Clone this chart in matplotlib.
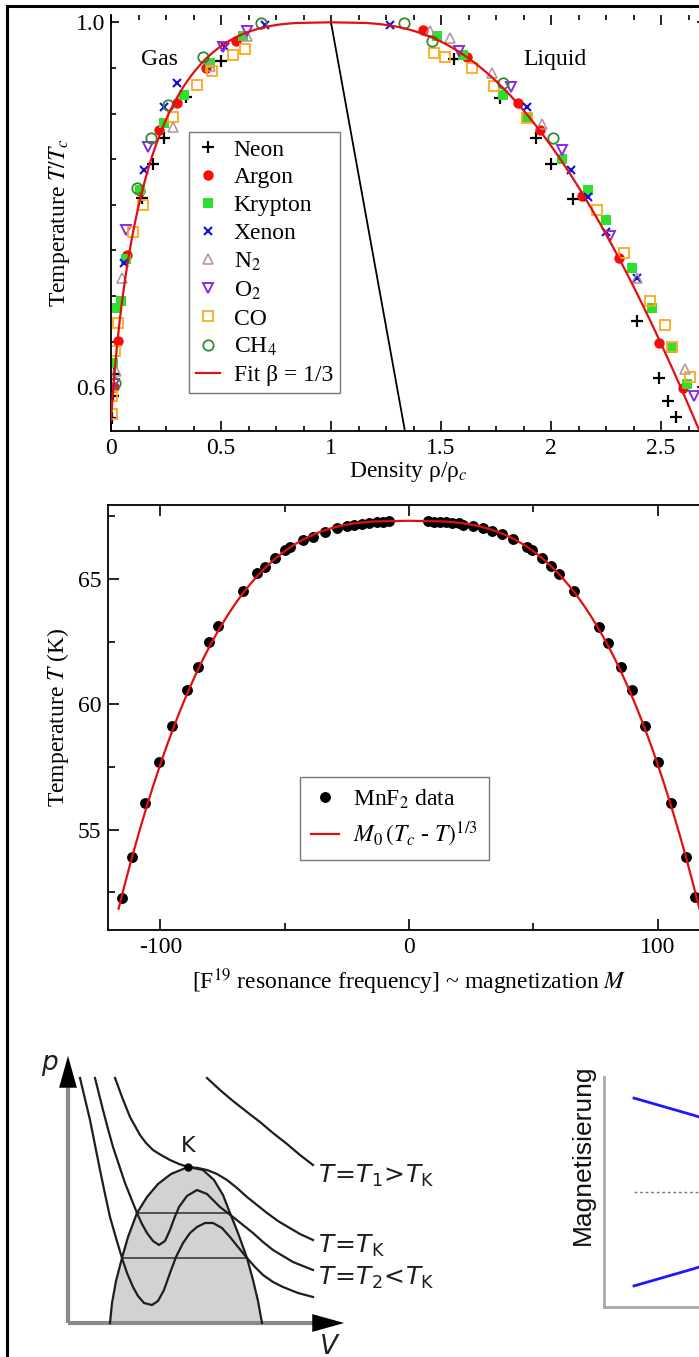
import numpy as np
import matplotlib.pyplot as plt
from matplotlib.patches import Rectangle

plt.rcParams['font.family'] = ['Liberation Serif', 'DejaVu Serif']
plt.rcParams['mathtext.fontset'] = 'stix'
plt.rcParams['axes.unicode_minus'] = False

# ---------------- top panel: reduced coexistence curve (rho/rho_c, T/T_c) ----------------
neon_rho = [0.50, 0.34, 0.24, 0.19, 0.14, 0.015, 0.01, 0.005, 1.56, 1.77, 1.93, 2.00, 2.10, 2.39, 2.49, 2.53, 2.57]
neon_T = [0.958, 0.918, 0.873, 0.845, 0.807, 0.615, 0.59, 0.566, 0.960, 0.917, 0.873, 0.845, 0.806, 0.673, 0.610, 0.585, 0.567]
argon_rho = [0.57, 0.43, 0.30, 0.22, 0.13, 0.075, 0.03, 0.012, 1.42, 1.62, 1.85, 1.95, 2.14, 2.31, 2.49, 2.60]
argon_T = [0.980, 0.950, 0.911, 0.882, 0.815, 0.745, 0.651, 0.600, 0.992, 0.962, 0.912, 0.882, 0.810, 0.742, 0.649, 0.599]
krypton_rho = [0.60, 0.45, 0.33, 0.24, 0.13, 0.07, 0.045, 0.025, 0.01, 1.48, 1.60, 1.78, 1.89, 2.05, 2.17, 2.25, 2.37, 2.46, 2.55, 2.62]
krypton_T = [0.985, 0.955, 0.920, 0.890, 0.816, 0.740, 0.695, 0.687, 0.626, 0.985, 0.964, 0.920, 0.896, 0.850, 0.816, 0.783, 0.731, 0.687, 0.643, 0.604]
xenon_rho = [0.70, 0.52, 0.30, 0.24, 0.15, 0.06, 1.27, 1.89, 2.09, 2.17, 2.25, 2.39]
xenon_T = [0.997, 0.973, 0.933, 0.907, 0.838, 0.736, 0.997, 0.907, 0.838, 0.808, 0.770, 0.720]
n2_rho = [0.62, 0.45, 0.28, 0.05, 0.023, 1.45, 1.54, 1.73, 1.96, 2.39, 2.61]
n2_T = [0.985, 0.952, 0.885, 0.720, 0.618, 0.990, 0.983, 0.944, 0.889, 0.720, 0.620]
o2_rho = [0.62, 0.51, 0.17, 0.07, 0.015, 1.58, 1.82, 2.05, 2.27, 2.65]
o2_T = [0.990, 0.973, 0.863, 0.772, 0.604, 0.969, 0.929, 0.860, 0.766, 0.590]
co_rho = [0.61, 0.555, 0.46, 0.39, 0.28, 0.145, 0.10, 0.032, 0.02, 0.005, 0.005,
          1.47, 1.52, 1.64, 1.74, 1.89, 2.21, 2.33, 2.45, 2.52, 2.55, 2.63]
co_T = [0.971, 0.964, 0.947, 0.931, 0.896, 0.800, 0.770, 0.670, 0.640, 0.590, 0.571,
        0.966, 0.962, 0.950, 0.930, 0.895, 0.794, 0.747, 0.695, 0.668, 0.644, 0.611]
ch4_rho = [0.68, 0.42, 0.26, 0.18, 0.12, 0.02, 1.33, 1.46, 1.78, 2.01]
ch4_T = [0.999, 0.962, 0.909, 0.873, 0.818, 0.605, 0.999, 0.980, 0.934, 0.873]

# Guggenheim fit: rho/rho_c = 1 + a(1-T) +- b(1-T)^beta
fit_a, fit_b, beta = 0.75, 1.75, 1 / 3

# ---------------- middle panel: MnF2 ----------------
mnf2_M = [-115.5, -111.5, -106.2, -100.6, -95.4, -89.3, -84.9, -80.5, -76.9, -66.8,
          -61.2, -57.9, -53.9, -49.9, -47.9, -42.7, -38.6, -33.8, -29.0, -24.9,
          -22.0, -19.0, -16.0, -13.0, -10.5, -8.0,
          7.5, 10.0, 12.5, 15.0, 17.5, 20.0, 21.7, 25.8, 29.8, 33.4,
          37.4, 41.9, 47.5, 49.5, 53.5, 57.1, 60.4, 66.4, 76.5, 80.1,
          85.3, 89.7, 95.0, 100.2, 105.4, 111.5, 115.1]
mnf2_T = [52.29, 53.92, 56.08, 57.71, 59.14, 60.58, 61.49, 62.49, 63.13, 64.52,
          65.24, 65.48, 65.84, 66.16, 66.27, 66.55, 66.67, 66.87, 67.03, 67.11,
          67.17, 67.21, 67.25, 67.27, 67.29, 67.30,
          67.30, 67.29, 67.28, 67.27, 67.25, 67.23, 67.15, 67.11, 67.03, 66.91,
          66.79, 66.59, 66.27, 66.16, 65.84, 65.52, 65.20, 64.52, 63.09, 62.45,
          61.49, 60.58, 59.14, 57.71, 56.08, 53.92, 52.33]
mnf2_Tc, mnf2_M0, mnf2_Tmin = 67.32, 46.9, 51.85

# ---------------- bottom left: p-V sketch ----------------
dome_V = [4.2, 4.4, 4.8, 5.4, 6.0, 6.9, 7.9, 9.0, 10.3, 12.0, 13.5, 14.6, 15.5, 16.2, 17.0, 17.9, 18.5, 19.0, 19.4]
dome_p = [0.0, 2.0, 4.2, 6.5, 8.6, 11.0, 12.6, 13.9, 14.9, 15.6, 15.3, 14.3, 12.8, 11.0, 9.0, 6.5, 4.3, 2.2, 0.0]
iso_hot_V = [13.9, 15.2, 16.5, 17.9, 19.2, 20.5, 21.9, 23.2, 24.5]
iso_hot_p = [24.5, 23.3, 22.2, 21.1, 20.1, 19.0, 17.9, 16.8, 15.8]
iso_crit_V = [4.7, 5.0, 5.4, 5.8, 6.2, 6.7, 7.2, 7.8, 8.5, 9.3, 10.2, 11.1, 12.0, 13.0, 13.9,
              14.9, 15.9, 16.9, 17.9, 18.9, 19.9, 21.0, 22.0, 23.2, 24.5]
iso_crit_p = [24.5, 23.7, 22.6, 21.6, 20.6, 19.7, 18.8, 18.0, 17.3, 16.8, 16.3, 15.9, 15.6, 15.5, 15.3,
              14.9, 14.3, 13.5, 12.6, 11.8, 11.0, 10.2, 9.6, 8.9, 8.3]
iso_mid_V = [2.7, 3.1, 3.5, 4.0, 4.5, 5.1, 5.7, 6.3, 6.9, 7.4, 7.9, 8.5, 9.1, 9.7, 10.2, 10.6, 11.1,
             11.9, 12.9, 13.9, 14.6, 15.2, 16.5, 17.5, 18.5, 19.5, 20.5, 21.5, 22.5, 23.5, 24.5]
iso_mid_p = [24.5, 22.9, 21.3, 19.4, 17.6, 15.8, 14.0, 12.5, 11.0, 9.9, 9.0, 8.2, 7.8, 8.2, 9.3, 10.4, 11.6,
             12.7, 13.3, 12.9, 12.2, 11.6, 10.6, 9.8, 9.0, 8.1, 7.3, 6.7, 6.1, 5.7, 5.3]
iso_cold_V = [1.2, 1.7, 2.2, 2.7, 3.2, 3.7, 4.2, 4.8, 5.4, 5.9, 6.5, 7.0, 7.6, 8.4, 9.0, 9.6, 10.2,
              10.8, 11.5, 12.2, 12.9, 13.7, 14.5, 15.4, 16.2, 17.0, 17.9, 18.7, 19.5, 20.5, 21.5, 23.0, 24.5]
iso_cold_p = [24.5, 22.4, 20.3, 17.8, 15.3, 12.9, 10.6, 8.5, 6.5, 5.0, 3.6, 2.7, 2.0, 1.8, 2.2, 3.3, 5.0,
              6.6, 8.0, 9.0, 9.6, 10.0, 10.0, 9.5, 8.6, 7.6, 6.5, 5.6, 4.8, 4.1, 3.6, 3.0, 2.6]
tie_mid_V, tie_mid_p = [6.9, 16.2], [11.0, 11.0]
tie_cold_V, tie_cold_p = [5.4, 17.9], [6.5, 6.5]
crit_V, crit_p = [12.0], [15.6]

# ---------------- bottom right: magnetisation sketch ----------------
mag_T = [1.0, 2.0, 3.0, 4.0, 5.0, 6.0, 7.0, 7.5, 8.0]
mag_M = [0.98, 0.89, 0.80, 0.70, 0.59, 0.46, 0.30, 0.20, 0.0]
mag_zero_T = [1.0, 10.0]

W, H = 699, 1357
fig = plt.figure(figsize=(W / 100, H / 100), dpi=100)


def px_axes(x0, y0, x1, y1):
    # axes box given in image pixels (top-left origin)
    return fig.add_axes([x0 / W, 1 - y1 / H, (x1 - x0) / W, (y1 - y0) / H])


FS = 17

# ===== panel 1 =====
ax1 = px_axes(111, 15, 705, 431)
styles = [
    ('Neon', neon_rho, neon_T, dict(marker='+', color='black', ms=8, mew=1.6, ls='none')),
    ('Argon', argon_rho, argon_T, dict(marker='o', color='#ff0a0a', ms=7.5, mew=0, ls='none')),
    ('Krypton', krypton_rho, krypton_T, dict(marker='s', color='#2ee02e', ms=6.5, mew=0, ls='none')),
    ('Xenon', xenon_rho, xenon_T, dict(marker='x', color='#1010e0', ms=6, mew=1.5, ls='none')),
    ('N$_2$', n2_rho, n2_T, dict(marker='^', mfc='none', mec='#b3909f', ms=7.5, mew=1.1, ls='none')),
    ('O$_2$', o2_rho, o2_T, dict(marker='v', mfc='none', mec='#8a2be2', ms=7.5, mew=1.4, ls='none')),
    ('CO', co_rho, co_T, dict(marker='s', mfc='none', mec='#ffa81e', ms=7.5, mew=1.3, ls='none')),
    ('CH$_4$', ch4_rho, ch4_T, dict(marker='o', mfc='none', mec='#2e8b2e', ms=7.5, mew=1.3, ls='none')),
]
for name, rho, T, st in styles:
    ax1.plot(rho, T, label=name, **st)

T_fit = np.linspace(0.552, 1.0, 600)
t = 1 - T_fit
rho_gas = 1 + fit_a * t - fit_b * t ** beta
rho_liq = 1 + fit_a * t + fit_b * t ** beta
ax1.plot(np.concatenate([rho_gas, rho_liq[::-1]]), np.concatenate([T_fit, T_fit[::-1]]),
         color='#e01010', lw=1.6, label='Fit β = 1/3', zorder=4)
T_diam = np.array([0.552, 1.0])
ax1.plot(1 + fit_a * (1 - T_diam), T_diam, color='black', lw=1.3)

ax1.set_xlim(0, 2.7)
ax1.set_ylim(0.552, 1.008)
ax1.set_xticks([0, 0.5, 1, 1.5, 2, 2.5])
ax1.set_xticklabels(['0', '0.5', '1', '1.5', '2', '2.5'])
ax1.set_xticks(np.arange(0, 2.71, 0.125), minor=True)
ax1.set_yticks([0.6, 1.0])
ax1.set_yticklabels(['0.6', '1.0'])
ax1.set_yticks(np.arange(0.6, 1.001, 0.05), minor=True)
ax1.tick_params(which='both', direction='in', top=True, right=True, labelsize=FS, width=1.2)
ax1.tick_params(axis='x', which='major', length=7, pad=5)
ax1.tick_params(axis='y', which='major', length=6, pad=4)
ax1.tick_params(which='minor', length=3.5)
ax1.spines['top'].set_visible(False)
for s in ('left', 'bottom', 'right'):
    ax1.spines[s].set_linewidth(1.3)
ax1.set_xlabel('Density ρ/ρ$_c$', fontsize=FS, labelpad=1)
ax1.set_ylabel('Temperature $T/T_c$', fontsize=FS, labelpad=3)
ax1.text(0.218, 0.959, 'Gas', fontsize=FS, ha='center', va='center')
ax1.text(2.018, 0.959, 'Liquid', fontsize=FS, ha='center', va='center')
leg1 = ax1.legend(loc='upper left', bbox_to_anchor=(0.1313, 0.7188), borderaxespad=0,
                  fontsize=FS, frameon=True, fancybox=False, edgecolor='#555555',
                  handlelength=1.0, handletextpad=0.6, labelspacing=0.27, borderpad=0.3,
                  numpoints=1)
leg1.get_frame().set_linewidth(1.0)

# ===== panel 2 =====
ax2 = px_axes(108.3, 505, 709.7, 930)
ax2.plot(mnf2_M, mnf2_T, 'o', color='black', ms=6.8, label='MnF$_2$ data', zorder=2)
T2 = np.linspace(mnf2_Tmin, mnf2_Tc, 600)
M_left = -mnf2_M0 * (mnf2_Tc - T2) ** beta
ax2.plot(np.concatenate([M_left, -M_left[::-1]]), np.concatenate([T2, T2[::-1]]),
         color='#e01010', lw=1.6, zorder=3, label=r'$M_0\,(T_c$ - $T)^{1/3}$')
ax2.set_xlim(-121, 121)
ax2.set_ylim(51.0, 67.95)
ax2.set_xticks([-100, 0, 100])
ax2.set_xticks([-50, 50], minor=True)
ax2.set_yticks([55, 60, 65])
ax2.set_yticks([52.5, 57.5, 62.5, 67.5], minor=True)
ax2.tick_params(which='both', direction='in', top=True, right=True, labelsize=FS, width=1.2)
ax2.tick_params(which='major', length=8, pad=5)
ax2.tick_params(which='minor', length=5)
for s in ax2.spines.values():
    s.set_linewidth(1.3)
ax2.set_xlabel(r'[F$^{19}$ resonance frequency] ~ magnetization $M$', fontsize=FS, labelpad=6)
ax2.set_ylabel(r'Temperature $T$ (K)', fontsize=FS, labelpad=5)
leg2 = ax2.legend(loc='upper left', bbox_to_anchor=(0.3188, 0.36), borderaxespad=0,
                  fontsize=FS, frameon=True, fancybox=False, edgecolor='#555555',
                  handlelength=1.2, handletextpad=0.6, labelspacing=0.4, borderpad=0.45,
                  numpoints=1)
leg2.get_frame().set_linewidth(1.0)

# ===== panel 3: p-V sketch =====
ax3 = px_axes(10, 1030, 460, 1357)
ax3.set_xlim(-5.8, 39.2)
ax3.set_ylim(-3.4, 29.3)
ax3.axis('off')
ax3.fill(dome_V, dome_p, color='#d2d2d2', zorder=1)
line_kw = dict(color='#1e1e1e', lw=1.6, zorder=3)
ax3.plot(dome_V, dome_p, **line_kw)
for V, p in [(iso_hot_V, iso_hot_p), (iso_crit_V, iso_crit_p), (iso_mid_V, iso_mid_p), (iso_cold_V, iso_cold_p)]:
    ax3.plot(V, p, **line_kw)
ax3.plot(tie_mid_V, tie_mid_p, color='#3a3a3a', lw=1.2, zorder=2)
ax3.plot(tie_cold_V, tie_cold_p, color='#3a3a3a', lw=1.2, zorder=2)
ax3.plot(crit_V, crit_p, 'o', color='black', ms=5, zorder=4)
# axes arrows
ax3.plot([0, 0], [0, 24.0], color='#8a8a8a', lw=3, solid_capstyle='butt', zorder=2)
ax3.plot([0, 25.0], [0, 0], color='#8a8a8a', lw=3, solid_capstyle='butt', zorder=2)
arrow = dict(arrowstyle='-|>,head_length=1.15,head_width=0.32', color='black', lw=0, mutation_scale=20)
ax3.annotate('', xy=(0, 27.0), xytext=(0, 23.5), arrowprops=arrow)
ax3.annotate('', xy=(27.9, 0), xytext=(24.4, 0), arrowprops=arrow)
sketch_kw = dict(fontsize=18, color='#1e1e1e', math_fontfamily='dejavusans')
ax3.text(-1.8, 25.8, '$p$', ha='center', va='center', fontsize=19, color='#1e1e1e', math_fontfamily='dejavusans')
ax3.text(26.2, -2.4, '$V$', ha='center', va='center', fontsize=19, color='#1e1e1e', math_fontfamily='dejavusans')
ax3.text(12.0, 17.7, 'K', ha='center', va='center', fontsize=16, color='#1e1e1e', family='DejaVu Sans')
ax3.text(25.0, 14.0, r'$T\!=\!T_1\!>\!T_\mathrm{K}$', ha='left', va='baseline', **sketch_kw)
ax3.text(25.0, 7.0, r'$T\!=\!T_\mathrm{K}$', ha='left', va='baseline', **sketch_kw)
ax3.text(25.0, 3.8, r'$T\!=\!T_2\!<\!T_\mathrm{K}$', ha='left', va='baseline', **sketch_kw)

# ===== panel 4: magnetisation sketch =====
ax4 = px_axes(604, 1077, 904, 1307)
ax4.set_xlim(0, 10)
ax4.set_ylim(-1.2, 1.2)
ax4.plot(mag_T, mag_M, color='#1a1aff', lw=2)
ax4.plot(mag_T, [-m for m in mag_M], color='#1a1aff', lw=2)
ax4.plot(mag_zero_T, [0, 0], color='#777777', lw=1, ls=(0, (2, 2)))
ax4.set_xticks([])
ax4.set_yticks([])
for s in ('top', 'right'):
    ax4.spines[s].set_visible(False)
for s in ('left', 'bottom'):
    ax4.spines[s].set_color('#aaaaaa')
    ax4.spines[s].set_linewidth(2)
ax4.set_ylabel('Magnetisierung', family='Liberation Sans', fontsize=19, color='#111111')
ax4.yaxis.set_label_coords(-0.03, 0.66)

# outer frame (top and left edges visible)
fig.add_artist(Rectangle((7 / W, -0.1), 2.0, 1.1 - 6 / H, transform=fig.transFigure,
                         fill=False, edgecolor='black', lw=2.2))

fig.savefig('out.png', dpi=100)
